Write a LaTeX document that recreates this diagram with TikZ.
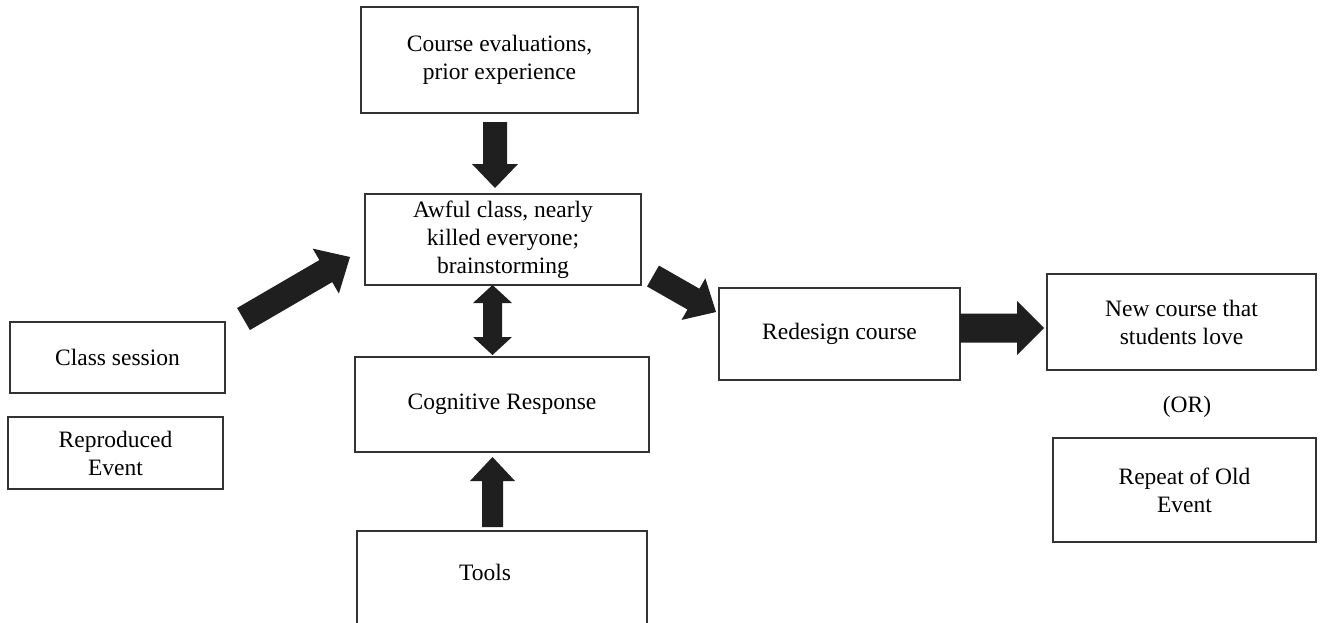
\documentclass[tikz,border=0pt]{standalone}
\usepackage{fontspec}
\setmainfont{Liberation Serif}
\usetikzlibrary{calc}

\tikzset{
  box/.style={draw=black!80, line width=1.3pt, rectangle, align=center,
    inner sep=0pt, font=\fontsize{23.5}{28}\selectfont},
  label text/.style={align=center, inner sep=0pt, font=\fontsize{23.5}{28}\selectfont},
  blockfill/.style={fill=black!88, draw=none},
}

% Block arrow from #1 to #2: half shaft width #3, half head width #4, head length #5
\newcommand\blockarrow[5]{%
  \coordinate (ba-n) at ($(#2)!#5!(#1)$);
  \fill[blockfill] ($(#1)!#3!90:(#2)$) -- ($(ba-n)!#3!90:(#2)$) -- ($(ba-n)!#4!90:(#2)$)
    -- (#2) -- ($(ba-n)!#4!-90:(#2)$) -- ($(ba-n)!#3!-90:(#2)$) -- ($(#1)!#3!-90:(#2)$) -- cycle;
}
% Double-headed block arrow between #1 and #2
\newcommand\dblblockarrow[5]{%
  \coordinate (da-a) at ($(#1)!#5!(#2)$);
  \coordinate (da-b) at ($(#2)!#5!(#1)$);
  \fill[blockfill] (#1) -- ($(da-a)!#4!90:(#2)$) -- ($(da-a)!#3!90:(#2)$)
    -- ($(da-b)!#3!-90:(#1)$) -- ($(da-b)!#4!-90:(#1)$) -- (#2)
    -- ($(da-b)!#4!90:(#1)$) -- ($(da-b)!#3!90:(#1)$)
    -- ($(da-a)!#3!-90:(#2)$) -- ($(da-a)!#4!-90:(#2)$) -- cycle;
}

\begin{document}
\begin{tikzpicture}[x=1pt, y=-1pt]
  \clip (0,0) rectangle (1321,622);
  \fill[white] (0,0) rectangle (1321,622);

  % boxes
  \node[box, minimum width=277pt, minimum height=106pt] (eval) at (499.5,60)
    {Course evaluations,\\prior experience};
  \node[box, minimum width=276pt, minimum height=91pt] (awful) at (503,239.5)
    {Awful class, nearly\\killed everyone;\\brainstorming};
  \node[box, minimum width=294pt, minimum height=95pt] (cog) at (502,404.5)
    {Cognitive Response};
  \node[box, minimum width=290pt, minimum height=98pt] (tools) at (502,580) {};
  \node[label text] (toolstext) at (485,572) {Tools};
  \node[box, minimum width=215pt, minimum height=71pt] (class) at (117.5,357.5)
    {Class session};
  \node[box, minimum width=215pt, minimum height=72pt] (repro) at (115.5,453)
    {Reproduced\\Event};
  \node[box, minimum width=241pt, minimum height=92pt] (redesign) at (839.5,334)
    {Redesign course};
  \node[box, minimum width=269pt, minimum height=96pt] (newc) at (1181.5,322)
    {New course that\\students love};
  \node[label text] (or) at (1187,407) {(OR)};
  \node[box, minimum width=263pt, minimum height=104pt] (repeat) at (1184.5,490)
    {Repeat of Old\\Event};

  % arrow end points
  \coordinate (e1) at (495,122);   \coordinate (e2) at (495,188);
  \coordinate (c1) at (243.5,319); \coordinate (c2) at (350,257);
  \coordinate (d1) at (492.5,285); \coordinate (d2) at (492.5,355);
  \coordinate (t1) at (492.5,527); \coordinate (t2) at (492.5,457);
  \coordinate (r1) at (653,276);   \coordinate (r2) at (716,312);
  \coordinate (n1) at (960,328);   \coordinate (n2) at (1044,328);

  % arrows
  \blockarrow{e1}{e2}{12pt}{23pt}{24pt}
  \blockarrow{c1}{c2}{12.75pt}{26pt}{28pt}
  \dblblockarrow{d1}{d2}{9.5pt}{19.5pt}{18pt}
  \blockarrow{t1}{t2}{10.5pt}{22.5pt}{24pt}
  \blockarrow{r1}{r2}{12pt}{24pt}{26pt}
  \blockarrow{n1}{n2}{14.5pt}{27pt}{27pt}
\end{tikzpicture}
\end{document}
